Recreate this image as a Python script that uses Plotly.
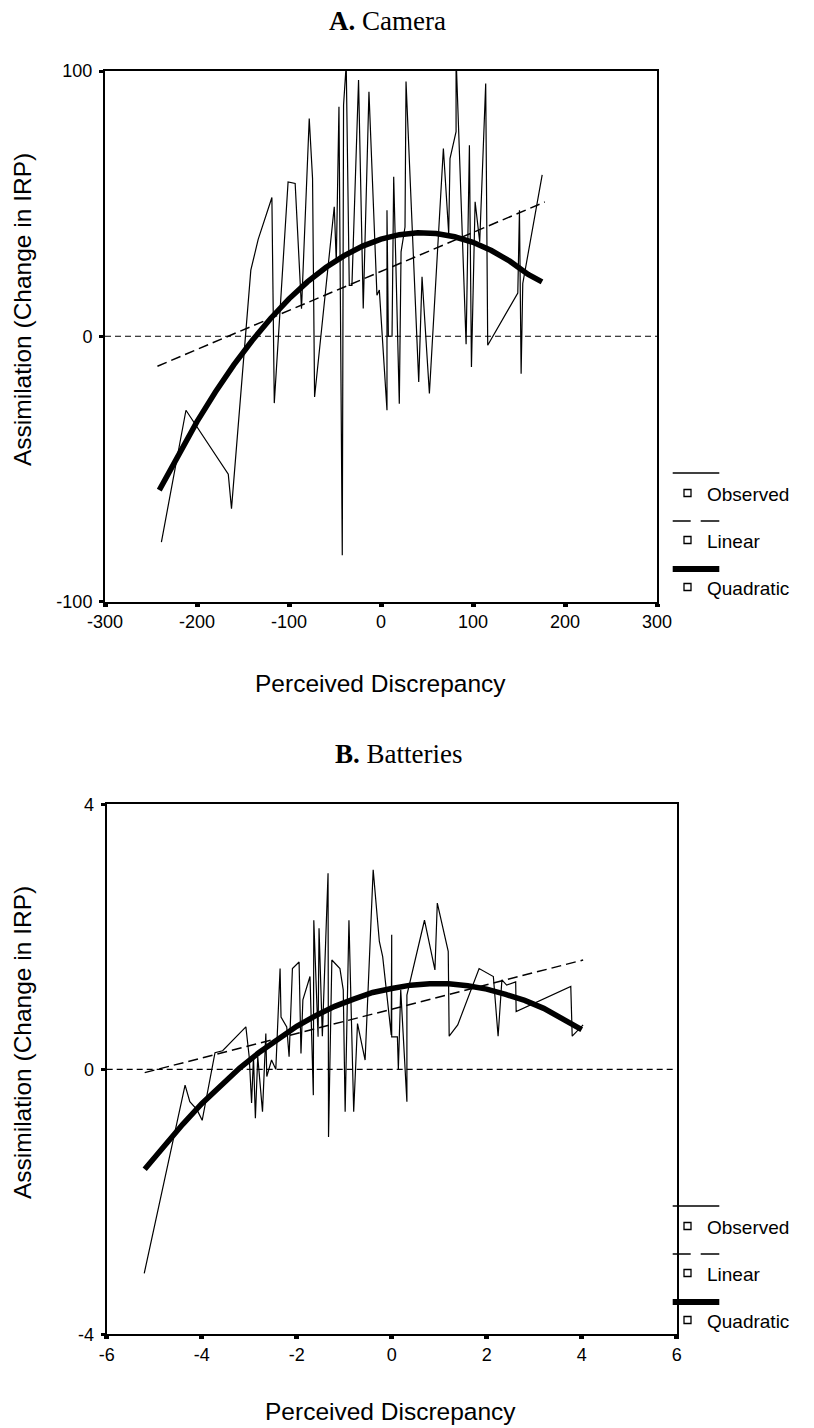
import plotly.graph_objects as go

W, H = 814, 1428

# ---------- Panel A: Camera ----------
cam_obs_x = [-238.7, -212, -166, -162.5, -141.5, -133.5, -118.6, -116, -101, -93.3,
             -86.4, -78, -74.4, -72.2, -50.8, -48.6, -45.7, -42.1, -40.7, -37.8,
             -34.5, -31.6, -24.4, -19.3, -13.1, -4.4, -1.8, 6.5, 6.5, 8,
             12, 13.8, 19.9, 21.8, 26.1, 27.2, 41, 44.6, 52.6, 67.8,
             73.6, 75, 81.6, 81.6, 92.5, 96.1, 98.3, 102.3, 107.3, 113.8,
             116, 148.7, 150.5, 152.3, 154.1, 175.2]
cam_obs_y = [-77.6, -27.9, -52, -65, 24.9, 36.5, 52.3, -25.2, 58.2, 57.6,
             10.4, 82.1, 59.5, -22.9, 48.8, 28, 86.5, -82.6, 87.2, 102.5,
             19.2, 19.2, 96.6, 10.5, 92.2, 15.5, 17.4, -27.9, 47.5, 0,
             0, 60.1, -25.4, 31.8, 41.2, 96, -17.2, 22.4, -21.6, 70.8,
             38.7, 67, 77.1, 105.4, -3, 72, -11.6, 50.7, 35.6, 95.3,
             -3.4, 16.3, 47.5, -14.1, 19.9, 60.8]

cam_lin_x = [-243, -200, -150, -100, -50, 0, 50, 100, 150, 178]
cam_lin_y = [-11.3, -5.0, 2.4, 9.7, 17.1, 24.4, 31.8, 39.1, 46.5, 50.6]

cam_quad_x = [-241, -220, -200, -180, -160, -140, -120, -100, -80, -60, -40,
              -20, 0, 20, 40, 60, 80, 100, 120, 140, 160, 175]
cam_quad_y = [-58.0, -44.3, -32.2, -21.0, -10.8, -1.6, 6.7, 14.1, 20.5, 25.9, 30.4,
              34.0, 36.6, 38.3, 39.0, 38.7, 37.5, 35.4, 32.3, 28.3, 23.3, 20.5]

cam_xticks = [-300, -200, -100, 0, 100, 200, 300]
cam_xticktext = ["-300", "-200", "-100", "0", "100", "200", "300"]
cam_yticks = [-100, 0, 100]
cam_yticktext = ["-100", "0", "100"]

# ---------- Panel B: Batteries ----------
bat_obs_x = [-5.21, -4.35, -4.25, -4.1, -3.99, -3.72, -3.56, -3.07, -3.0, -2.95,
             -2.91, -2.87, -2.82, -2.72, -2.65, -2.63, -2.53, -2.44, -2.35, -2.33,
             -2.21, -2.16, -2.09, -1.95, -1.91, -1.87, -1.72, -1.65, -1.64, -1.55,
             -1.53, -1.46, -1.34, -1.33, -1.26, -1.09, -1.02, -0.98, -0.90, -0.84,
             -0.80, -0.72, -0.56, -0.39, -0.26, -0.19, -0.01, 0.0, 0.0, 0.12,
             0.14, 0.19, 0.32, 0.32, 0.69, 0.91, 0.96, 1.19, 1.21, 1.39,
             1.84, 2.14, 2.24, 2.32, 2.42, 2.61, 2.62, 3.77, 3.80, 4.03]
bat_obs_y = [-3.08, -0.24, -0.49, -0.61, -0.77, 0.25, 0.28, 0.64, 0.19, -0.51,
             0.19, -0.74, 0.19, -0.64, 0.54, -0.11, 0.14, 0.0, 1.52, 0.79,
             0.64, 0.19, 1.52, 1.62, 0.24, 1.05, 1.40, -0.39, 2.25, 0.49,
             2.13, 0.5, 2.96, -1.02, 1.65, 1.52, 1.2, -0.64, 2.25, 0.74,
             -0.64, 0.69, 0.14, 3.01, 1.93, 1.70, 0.52, 2.03, 0.49, 0.49,
             0.0, 1.2, -0.49, 1.12, 2.25, 1.5, 2.51, 1.78, 0.50, 0.67,
             1.52, 1.40, 0.50, 1.35, 1.27, 1.32, 0.87, 1.25, 0.50, 0.67]

bat_lin_x = [-5.2, -4, -3, -2, -1, 0, 1, 2, 3, 4.03]
bat_lin_y = [-0.05, 0.17, 0.36, 0.54, 0.73, 0.91, 1.09, 1.28, 1.46, 1.65]

bat_quad_x = [-5.2, -4.8, -4.4, -4.0, -3.6, -3.2, -2.8, -2.4, -2.0, -1.6, -1.2, -0.8,
              -0.4, 0.0, 0.4, 0.8, 1.2, 1.6, 2.0, 2.4, 2.8, 3.2, 3.6, 4.0]
bat_quad_y = [-1.51, -1.16, -0.83, -0.52, -0.24, 0.02, 0.25, 0.46, 0.65, 0.81, 0.95, 1.06,
              1.16, 1.22, 1.27, 1.29, 1.29, 1.26, 1.21, 1.13, 1.04, 0.92, 0.77, 0.60]

bat_xticks = [-6, -4, -2, 0, 2, 4, 6]
bat_xticktext = ["-6", "-4", "-2", "0", "2", "4", "6"]
bat_yticks = [-4, 0, 4]
bat_yticktext = ["-4", "0", "4"]

legend_labels = ["Observed", "Linear", "Quadratic"]
panel_titles = ["<b>A.</b> Camera", "<b>B.</b> Batteries"]
x_title = "Perceived Discrepancy"
y_title = "Assimilation (Change in IRP)"

SANS = "Liberation Sans, Arial, sans-serif"
SERIF = "Liberation Serif, Times New Roman, serif"


def px(x):
    return x / W


def py(y):
    return 1 - y / H


fig = go.Figure()

panels = [
    dict(xa="x", ya="y", obs=(cam_obs_x, cam_obs_y), lin=(cam_lin_x, cam_lin_y),
         quad=(cam_quad_x, cam_quad_y)),
    dict(xa="x2", ya="y2", obs=(bat_obs_x, bat_obs_y), lin=(bat_lin_x, bat_lin_y),
         quad=(bat_quad_x, bat_quad_y)),
]

for p in panels:
    fig.add_trace(go.Scatter(x=p["obs"][0], y=p["obs"][1], mode="lines",
                             line=dict(color="black", width=1.2),
                             xaxis=p["xa"], yaxis=p["ya"], showlegend=False,
                             name="Observed"))
    fig.add_trace(go.Scatter(x=p["lin"][0], y=p["lin"][1], mode="lines",
                             line=dict(color="black", width=1.5, dash="10px,5px"),
                             xaxis=p["xa"], yaxis=p["ya"], showlegend=False,
                             name="Linear"))
    fig.add_trace(go.Scatter(x=p["quad"][0], y=p["quad"][1], mode="lines",
                             line=dict(color="black", width=5.5),
                             xaxis=p["xa"], yaxis=p["ya"], showlegend=False,
                             name="Quadratic"))

axis_common = dict(showline=True, linecolor="black", linewidth=2, mirror=True,
                   showgrid=False, zeroline=False, ticks="outside", automargin=False,
                   tickcolor="black", tickfont=dict(family=SANS, size=18, color="black"))

# Panel geometry (pixels)
camL, camR, camT, camB = 105, 657, 71, 601.5
batL, batR, batT, batB = 106.7, 676.7, 804.3, 1334.3

fig.update_layout(
    width=W, height=H,
    margin=dict(l=0, r=0, t=0, b=0, pad=0, autoexpand=False),
    paper_bgcolor="white", plot_bgcolor="white",
    showlegend=False,
    xaxis=dict(domain=[px(camL), px(camR)], range=[-300, 300], tickvals=cam_xticks,
               ticktext=cam_xticktext, ticklen=3, tickwidth=5, anchor="y", **axis_common),
    yaxis=dict(domain=[py(camB), py(camT)], range=[-100, 100], tickvals=cam_yticks,
               ticktext=cam_yticktext, ticklen=4, tickwidth=3, anchor="x",
               ticklabelstandoff=3, **axis_common),
    xaxis2=dict(domain=[px(batL), px(batR)], range=[-6, 6], tickvals=bat_xticks,
                ticktext=bat_xticktext, ticklen=3, tickwidth=5, anchor="y2", **axis_common),
    yaxis2=dict(domain=[py(batB), py(batT)], range=[-4, 4], tickvals=bat_yticks,
                ticktext=bat_yticktext, ticklen=4, tickwidth=3, anchor="x2",
                ticklabelstandoff=3, **axis_common),
)

shapes = []
annotations = []

# zero reference lines
for xr, yr in [("x domain", "y"), ("x2 domain", "y2")]:
    shapes.append(dict(type="line", xref=xr, yref=yr, x0=0, x1=1, y0=0, y1=0,
                       line=dict(color="black", width=1.2, dash="6px,4px"), layer="below"))

# titles, axis titles and hand-drawn legends
for i in range(2):
    off = 0 if i == 0 else 733
    annotations.append(dict(text=panel_titles[i], x=px(387 if i == 0 else 398),
                            y=py(21 + off), xref="paper", yref="paper",
                            xanchor="center", yanchor="middle", showarrow=False,
                            font=dict(family=SERIF, size=27, color="black")))
    xt_y = 683 if i == 0 else 1411
    annotations.append(dict(text=x_title, x=px(380 if i == 0 else 390), y=py(xt_y),
                            xref="paper", yref="paper", xanchor="center", yanchor="middle",
                            showarrow=False, font=dict(family=SANS, size=24.5, color="black")))
    annotations.append(dict(text=y_title, x=px(22), y=py(310 + off), xref="paper",
                            yref="paper", xanchor="center", yanchor="middle", textangle=-90,
                            showarrow=False, font=dict(family=SANS, size=24.5, color="black")))

    lx0, lx1 = 672.7, 719.3
    shapes.append(dict(type="line", xref="paper", yref="paper", x0=px(lx0), x1=px(lx1),
                       y0=py(473 + off), y1=py(473 + off), line=dict(color="black", width=1.5)))
    shapes.append(dict(type="line", xref="paper", yref="paper", x0=px(672.7), x1=px(690.7),
                       y0=py(521 + off), y1=py(521 + off), line=dict(color="black", width=1.5)))
    shapes.append(dict(type="line", xref="paper", yref="paper", x0=px(700.7), x1=px(719.3),
                       y0=py(521 + off), y1=py(521 + off), line=dict(color="black", width=1.5)))
    shapes.append(dict(type="line", xref="paper", yref="paper", x0=px(lx0), x1=px(lx1),
                       y0=py(569 + off), y1=py(569 + off), line=dict(color="black", width=6)))
    for k, sy in enumerate([493, 540, 587]):
        cy = sy + off
        shapes.append(dict(type="rect", xref="paper", yref="paper",
                           x0=px(684), x1=px(691), y0=py(cy + 3.5), y1=py(cy - 3.5),
                           line=dict(color="black", width=1.3), fillcolor="white"))
        annotations.append(dict(text=legend_labels[k], x=px(705), y=py(cy + 1.5),
                                xref="paper", yref="paper", xanchor="left", yanchor="middle",
                                showarrow=False,
                                font=dict(family=SANS, size=19, color="black")))

fig.update_layout(shapes=shapes, annotations=annotations)

fig.write_html(
    "out.html",
    config={"displayModeBar": False},
    post_script="document.body.style.margin='0px';document.body.style.overflow='hidden';",
)
